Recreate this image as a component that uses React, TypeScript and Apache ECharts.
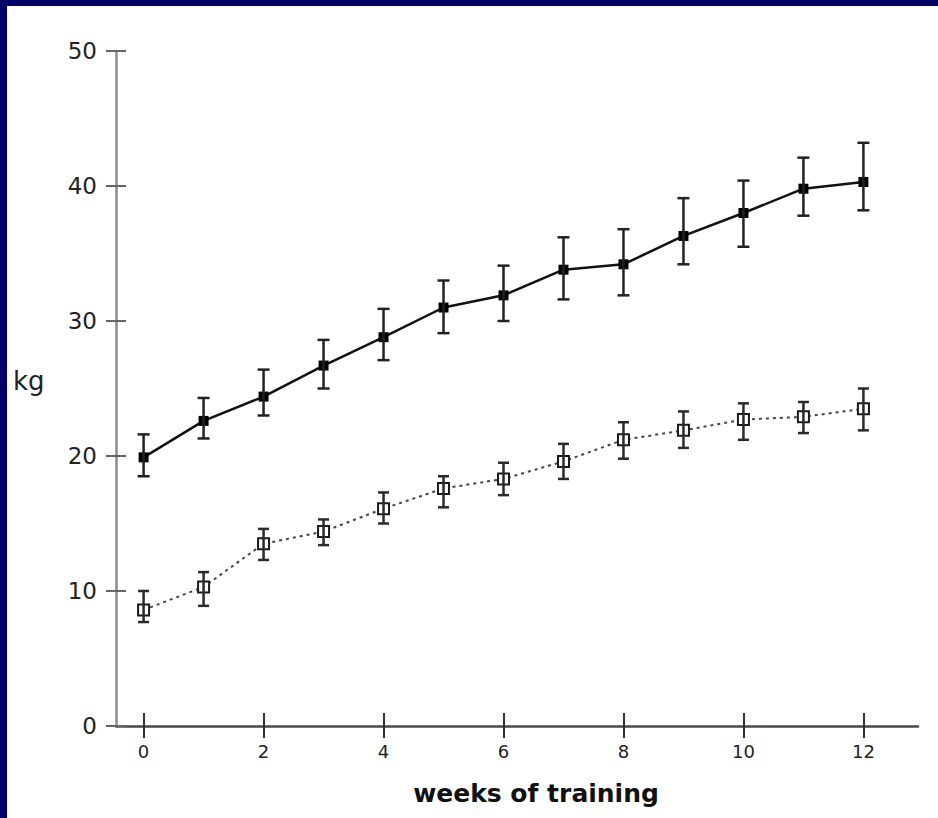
import React, { useEffect, useRef } from "react";
import * as echarts from "echarts";

const weeks = [0, 1, 2, 3, 4, 5, 6, 7, 8, 9, 10, 11, 12];
const trainedMean = [19.9, 22.6, 24.4, 26.7, 28.8, 31.0, 31.9, 33.8, 34.2, 36.3, 38.0, 39.8, 40.3];
const trainedUpper = [21.6, 24.3, 26.4, 28.6, 30.9, 33.0, 34.1, 36.2, 36.8, 39.1, 40.4, 42.1, 43.2];
const trainedLower = [18.5, 21.3, 23.0, 25.0, 27.1, 29.1, 30.0, 31.6, 31.9, 34.2, 35.5, 37.8, 38.2];
const otherMean = [8.6, 10.3, 13.5, 14.4, 16.1, 17.6, 18.3, 19.6, 21.2, 21.9, 22.7, 22.9, 23.5];
const otherUpper = [10.0, 11.4, 14.6, 15.3, 17.3, 18.5, 19.5, 20.9, 22.5, 23.3, 23.9, 24.0, 25.0];
const otherLower = [7.7, 8.9, 12.3, 13.4, 15.0, 16.2, 17.1, 18.3, 19.8, 20.6, 21.2, 21.7, 21.9];
const xTickValues = [0, 2, 4, 6, 8, 10, 12];
const xAxisTitle = "weeks of training";
const yAxisTitle = "kg";

const FONT = "DejaVu Sans";

function errorBars(lower: number[], upper: number[], capHalf: number, color: string) {
  return {
    type: "custom",
    z: 5,
    data: weeks.map((w, i) => [w, lower[i], upper[i]]),
    renderItem: (params: any, api: any) => {
      const x = api.value(0);
      const lo = api.coord([x, api.value(1)]);
      const hi = api.coord([x, api.value(2)]);
      const style = { stroke: color, lineWidth: 2.5 };
      return {
        type: "group",
        children: [
          { type: "line", shape: { x1: lo[0], y1: lo[1], x2: hi[0], y2: hi[1] }, style },
          { type: "line", shape: { x1: hi[0] - capHalf, y1: hi[1], x2: hi[0] + capHalf, y2: hi[1] }, style },
          { type: "line", shape: { x1: lo[0] - capHalf, y1: lo[1], x2: lo[0] + capHalf, y2: lo[1] }, style },
        ],
      };
    },
  };
}

export default function App() {
  const ref = useRef<HTMLDivElement>(null);
  useEffect(() => {
    document.body.style.margin = "0";
    document.body.style.background = "#ffffff";
    document.documentElement.style.background = "#ffffff";
    const chart = echarts.init(ref.current!, null, { renderer: "svg" });
    const xMin = -0.46;
    const xMax = 12.91;
    chart.setOption({
      animation: false,
      backgroundColor: "#ffffff",
      grid: { left: 116, right: 20, top: 51, bottom: 92 },
      xAxis: [
        {
          type: "value",
          min: xMin,
          max: xMax,
          splitLine: { show: false },
          axisLine: { show: true, onZero: false, lineStyle: { color: "#4a4a4a", width: 2.5 } },
          axisTick: { show: true, length: 12, customValues: xTickValues, lineStyle: { color: "#333", width: 2 } },
          axisLabel: { show: true, customValues: xTickValues, margin: 16, fontFamily: FONT, fontSize: 18, color: "#222" },
        },
        {
          type: "value",
          min: xMin,
          max: xMax,
          position: "bottom",
          splitLine: { show: false },
          axisLine: { show: false, onZero: false },
          axisTick: { show: true, inside: true, length: 13, customValues: xTickValues, lineStyle: { color: "#333", width: 2 } },
          axisLabel: { show: false },
        },
      ],
      yAxis: [
        {
          type: "value",
          min: 0,
          max: 50,
          interval: 10,
          splitLine: { show: false },
          axisLine: { show: true, onZero: false, lineStyle: { color: "#8c8c8c", width: 2.5 } },
          axisTick: { show: true, length: 10, lineStyle: { color: "#666", width: 2 } },
          axisLabel: { margin: 19, fontFamily: FONT, fontSize: 23, color: "#222" },
        },
        {
          type: "value",
          min: 0,
          max: 50,
          interval: 10,
          position: "left",
          splitLine: { show: false },
          axisLine: { show: false, onZero: false },
          axisTick: { show: true, inside: true, length: 10, lineStyle: { color: "#666", width: 2 } },
          axisLabel: { show: false },
        },
      ],
      series: [
        {
          type: "line",
          xAxisIndex: 0,
          yAxisIndex: 0,
          z: 3,
          data: weeks.map((w, i) => [w, trainedMean[i]]),
          symbol: "rect",
          symbolSize: 10,
          itemStyle: { color: "#000" },
          lineStyle: { color: "#111", width: 2.5 },
        },
        {
          type: "line",
          xAxisIndex: 0,
          yAxisIndex: 0,
          z: 3,
          data: weeks.map((w, i) => [w, otherMean[i]]),
          symbol: "emptyRect",
          symbolSize: 11,
          itemStyle: { color: "#1a1a1a", borderWidth: 2.5 },
          lineStyle: { color: "#444", width: 2, type: [3, 4] },
        },
        errorBars(trainedLower, trainedUpper, 6, "#222"),
        errorBars(otherLower, otherUpper, 5.5, "#2a2a2a"),
      ],
      graphic: [
        { type: "rect", left: 0, top: 0, shape: { width: 7, height: 818 }, style: { fill: "#000068" } },
        { type: "rect", left: 0, top: 0, shape: { width: 938, height: 6 }, style: { fill: "#000068" } },
        {
          type: "text",
          x: 13,
          y: 381,
          style: { text: yAxisTitle, fontFamily: FONT, fontSize: 26, fill: "#222", textAlign: "left", textVerticalAlign: "middle" },
        },
        {
          type: "text",
          x: 536,
          y: 793,
          style: { text: xAxisTitle, fontFamily: FONT, fontWeight: "bold", fontSize: 25, fill: "#111", textAlign: "center", textVerticalAlign: "middle" },
        },
      ],
    });
    return () => chart.dispose();
  }, []);
  return <div ref={ref} style={{ width: 938, height: 818 }} />;
}
